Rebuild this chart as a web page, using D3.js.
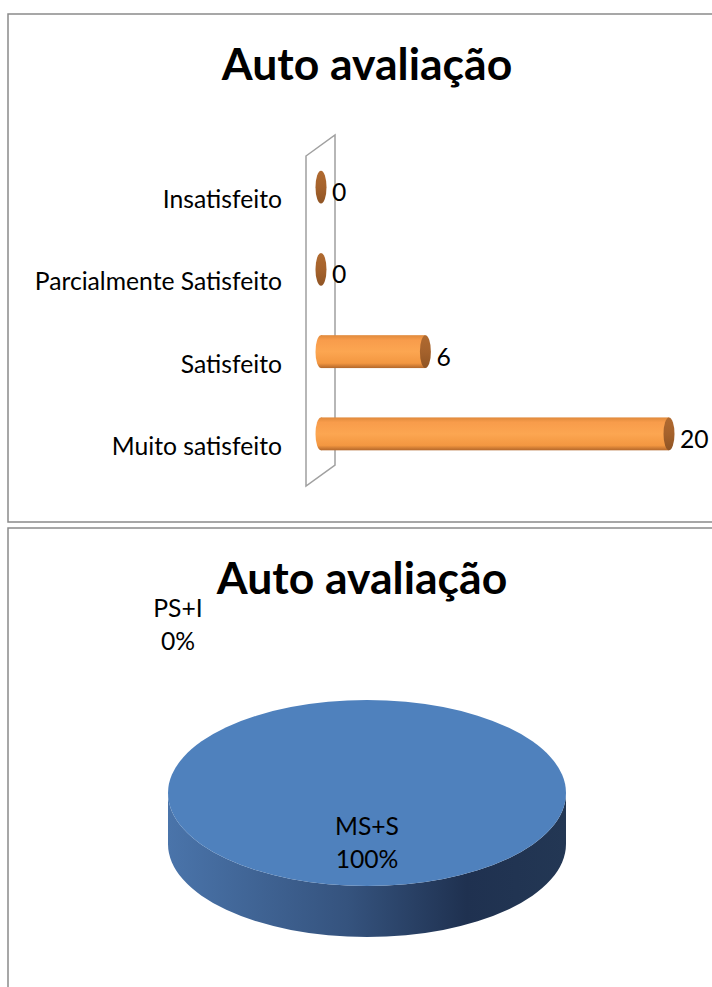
<!DOCTYPE html>
<html>
<head>
<meta charset="utf-8">
<script src="https://cdn.jsdelivr.net/npm/d3@7"></script>
<style>
  body { margin: 0; background: #fff; }
  svg { display: block; font-family: Lato, "Noto Sans", sans-serif; }
</style>
</head>
<body>
<div id="chart"></div>
<script>
// dados do gráfico de barras
const categorias = ['Insatisfeito', 'Parcialmente Satisfeito', 'Satisfeito', 'Muito satisfeito'];
const valores = [0, 0, 6, 20];

// dados do gráfico circular
const fatias = ['MS+S', 'PS+I'];
const fatiaValores = [26, 0];
const fatiaPct = ['100%', '0%'];

const titulo = 'Auto avaliação';

const W = 712, H = 987;
const svg = d3.select('#chart').append('svg')
    .attr('width', W)
    .attr('height', H);

const defs = svg.append('defs');

// gradiente do cilindro
const gBar = defs.append('linearGradient')
    .attr('id', 'barGrad').attr('x1', 0).attr('y1', 0).attr('x2', 0).attr('y2', 1);
[[0, '#e08a3c'], [0.15, '#f89c4b'], [0.5, '#fca651'], [0.85, '#f39741'], [1, '#b3672a']]
    .forEach(s => gBar.append('stop').attr('offset', s[0]).attr('stop-color', s[1]));

const gCap = defs.append('linearGradient')
    .attr('id', 'capGrad').attr('x1', 0).attr('y1', 0).attr('x2', 0).attr('y2', 1);
[[0, '#b06a30'], [0.5, '#a5622c'], [1, '#8f5424']]
    .forEach(s => gCap.append('stop').attr('offset', s[0]).attr('stop-color', s[1]));

// gradiente do lado da pizza
const gSide = defs.append('linearGradient')
    .attr('id', 'sideGrad').attr('x1', 0).attr('y1', 0).attr('x2', 1).attr('y2', 0);
[[0, '#4a74aa'], [0.45, '#35537e'], [0.75, '#1f3150'], [1, '#233754']]
    .forEach(s => gSide.append('stop').attr('offset', s[0]).attr('stop-color', s[1]));

// molduras
svg.append('rect')
    .attr('x', 8).attr('y', 14).attr('width', 720).attr('height', 508)
    .attr('fill', 'none').attr('stroke', '#8a8a8a').attr('stroke-width', 1.5);
svg.append('rect')
    .attr('x', 8).attr('y', 528).attr('width', 720).attr('height', 480)
    .attr('fill', 'none').attr('stroke', '#8a8a8a').attr('stroke-width', 1.5);

// ---------- Gráfico de barras ----------
svg.append('text')
    .attr('x', 367).attr('y', 80)
    .attr('text-anchor', 'middle')
    .attr('font-size', '44.5px').attr('font-weight', 'bold')
    .text(titulo);

const x = d3.scaleLinear().domain([0, 20]).range([321, 669]);
const y = d3.scaleBand().domain(categorias).range([146, 475]);
const barH = y.bandwidth() * 0.4;
const capRx = 5.5;

// parede (plano do eixo)
const x0 = x(0);
const y0 = y.range()[0], y1 = y.range()[1];
svg.append('path')
    .attr('d', `M${x0 - 15},${y0 + 10} L${x0 + 14},${y0 - 11} L${x0 + 14},${y1 - 10} L${x0 - 15},${y1 + 11} Z`)
    .attr('fill', 'none')
    .attr('stroke', '#a0a0a0')
    .attr('stroke-width', 1.5);

// rótulos das categorias
svg.selectAll('.cat')
    .data(categorias)
    .enter().append('text')
    .attr('class', 'cat')
    .attr('x', 282)
    .attr('y', d => y(d) + y.bandwidth() / 2 + 21)
    .attr('text-anchor', 'end')
    .attr('font-size', '24.7px')
    .attr('fill', '#000')
    .text(d => d);

const barras = svg.selectAll('.bar')
    .data(categorias.map((c, i) => ({ cat: c, v: valores[i] })))
    .enter().append('g')
    .attr('class', 'bar');

// corpo do cilindro
barras.filter(d => d.v > 0).append('ellipse')
    .attr('cx', x0)
    .attr('cy', d => y(d.cat) + y.bandwidth() / 2)
    .attr('rx', capRx).attr('ry', barH / 2)
    .attr('fill', 'url(#barGrad)');
barras.filter(d => d.v > 0).append('rect')
    .attr('x', x0)
    .attr('y', d => y(d.cat) + y.bandwidth() / 2 - barH / 2)
    .attr('width', d => x(d.v) - x0)
    .attr('height', barH)
    .attr('fill', 'url(#barGrad)');

// tampa
barras.append('ellipse')
    .attr('cx', d => x(d.v))
    .attr('cy', d => y(d.cat) + y.bandwidth() / 2)
    .attr('rx', capRx).attr('ry', barH / 2)
    .attr('fill', 'url(#capGrad)');

// rótulos de valor
barras.append('text')
    .attr('x', d => x(d.v) + 11)
    .attr('y', d => y(d.cat) + y.bandwidth() / 2 + 14)
    .attr('font-size', '24.7px')
    .attr('fill', '#000')
    .text(d => d.v);

// ---------- Gráfico circular ----------
svg.append('text')
    .attr('x', 362).attr('y', 594)
    .attr('text-anchor', 'middle')
    .attr('font-size', '44.5px').attr('font-weight', 'bold')
    .text(titulo);

const cx = 367, cy = 793, rx = 199, ry = 93, prof = 51;

const pie = d3.pie().sort(null).value(d => d.v);
const arcos = pie(fatias.map((f, i) => ({ nome: f, v: fatiaValores[i], pct: fatiaPct[i] })));

// lado (espessura)
svg.append('path')
    .attr('d', `M${cx - rx},${cy} L${cx - rx},${cy + prof} A${rx},${ry} 0 0 0 ${cx + rx},${cy + prof} L${cx + rx},${cy} A${rx},${ry} 0 0 1 ${cx - rx},${cy} Z`)
    .attr('fill', 'url(#sideGrad)');

// topo
const arc = d3.arc().innerRadius(0).outerRadius(rx);
svg.append('g')
    .attr('transform', `translate(${cx},${cy}) scale(1,${ry / rx})`)
    .selectAll('path')
    .data(arcos)
    .enter().append('path')
    .attr('d', arc)
    .attr('fill', '#4f81bd');

// rótulos
const posRotulo = [[0, 42], [-189, -176]];
arcos.forEach((a, i) => {
    const t = svg.append('text')
        .attr('text-anchor', 'middle')
        .attr('font-size', '24.7px')
        .attr('fill', '#000');
    t.append('tspan')
        .attr('x', cx + posRotulo[i][0]).attr('y', cy + posRotulo[i][1])
        .text(a.data.nome);
    t.append('tspan')
        .attr('x', cx + posRotulo[i][0]).attr('y', cy + posRotulo[i][1] + 33)
        .text(a.data.pct);
});
</script>
</body>
</html>
